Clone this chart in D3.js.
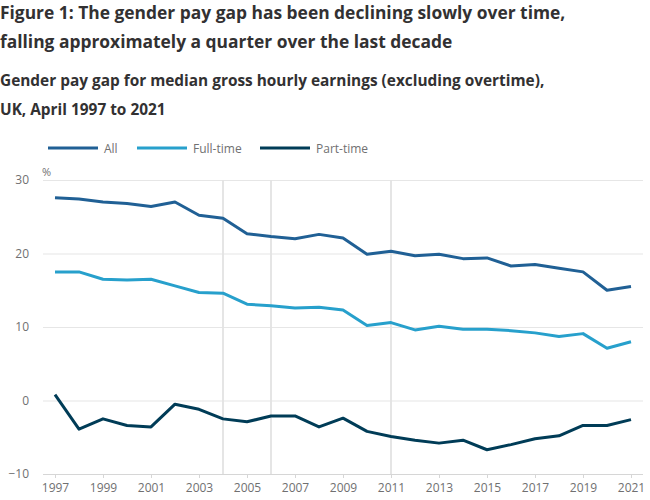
<!DOCTYPE html>
<html><head><meta charset="utf-8">
<script src="https://cdn.jsdelivr.net/npm/d3@7"></script>
<style>
body{margin:0;background:#fff;font-family:"Open Sans",sans-serif;}
svg{display:block;}
</style></head>
<body>
<svg id="chart" width="650" height="500"></svg>
<script>
const years = d3.range(1997, 2022);
const allSeries = [27.6,27.4,27.0,26.8,26.4,27.0,25.2,24.8,22.7,22.3,22.0,22.6,22.1,19.9,20.3,19.7,19.9,19.3,19.4,18.3,18.5,18.0,17.5,15.0,15.5];
const fullTime = [17.5,17.5,16.5,16.4,16.5,15.6,14.7,14.6,13.1,12.9,12.6,12.7,12.3,10.2,10.6,9.6,10.1,9.7,9.7,9.5,9.2,8.7,9.1,7.1,8.0];
const partTime = [0.8,-3.9,-2.5,-3.4,-3.6,-0.5,-1.2,-2.5,-2.9,-2.1,-2.1,-3.6,-2.4,-4.2,-4.9,-5.4,-5.8,-5.4,-6.7,-6.0,-5.2,-4.8,-3.4,-3.4,-2.6];
const seriesNames = ["All","Full-time","Part-time"];
const seriesColors = ["#206095","#27a0cc","#003c57"];
const yTicks = [-10,0,10,20,30];
const xTicks = [1997,1999,2001,2003,2005,2007,2009,2011,2013,2015,2017,2019,2021];
const breakYears = [2004,2006,2011];
const titleLines = ["Figure 1: The gender pay gap has been declining slowly over time,","falling approximately a quarter over the last decade"];
const subtitleLines = ["Gender pay gap for median gross hourly earnings (excluding overtime),","UK, April 1997 to 2021"];

const svg = d3.select("#chart");
const x = d3.scaleLinear().domain([1997,2021]).range([55,631]);
const y = d3.scaleLinear().domain([-10,30]).range([474,180]);

svg.selectAll("text.title").data(titleLines).join("text")
  .attr("x",0).attr("y",(d,i)=>19+i*29)
  .attr("font-size",17.4).attr("font-weight",700).attr("fill","#323132").text(d=>d);
svg.selectAll("text.sub").data(subtitleLines).join("text")
  .attr("x",0).attr("y",(d,i)=>86+i*29)
  .attr("font-size",15.4).attr("font-weight",700).attr("fill","#323132").text(d=>d);

// gridlines
const yAxis = d3.axisLeft(y).tickValues(yTicks).tickSize(-600).tickPadding(14);
const gy = svg.append("g").attr("transform","translate(43,0)").call(yAxis);
gy.select(".domain").remove();
gy.selectAll(".tick line").attr("stroke","#e6e6e6").attr("stroke-width",1.2);
gy.selectAll(".tick text").attr("font-family","Open Sans").attr("font-size",12).attr("fill","#707071").attr("x",-14).attr("text-anchor","end");

// break lines
svg.selectAll("line.brk").data(breakYears).join("line")
  .attr("x1",d=>x(d)).attr("x2",d=>x(d)).attr("y1",y(30)).attr("y2",y(-10))
  .attr("stroke","#e3e3e3").attr("stroke-width",1.8);

const xAxis = d3.axisBottom(x).tickValues(xTicks).tickFormat(d3.format("d")).tickSize(4).tickPadding(5);
const gx = svg.append("g").attr("transform",`translate(0,${y(-10)})`).call(xAxis);
gx.select(".domain").attr("d","M43,0.5H643").attr("stroke","#d6d6d6");
gx.selectAll(".tick line").attr("stroke","#d6d6d6");
gx.selectAll(".tick text").attr("font-family","Open Sans").attr("font-size",12).attr("fill","#707071");

svg.append("text").attr("x",42).attr("y",176).attr("font-size",11).attr("fill","#707071").text("%");

const data = [allSeries, fullTime, partTime];
const line = d3.line().x((d,i)=>x(years[i])).y(d=>y(d));
svg.selectAll("path.series").data(data).join("path")
  .attr("fill","none").attr("stroke",(d,i)=>seriesColors[i]).attr("stroke-width",3)
  .attr("stroke-linejoin","round").attr("d",line);

// legend
const legX = [48,137,260];
const lg = svg.selectAll("g.leg").data(seriesNames).join("g").attr("transform",(d,i)=>`translate(${legX[i]},148)`);
lg.append("line").attr("x1",0).attr("x2",50).attr("stroke",(d,i)=>seriesColors[i]).attr("stroke-width",3);
lg.append("text").attr("x",56).attr("y",4.5).attr("font-size",12).attr("fill","#707071").text(d=>d);
</script>
</body></html>
